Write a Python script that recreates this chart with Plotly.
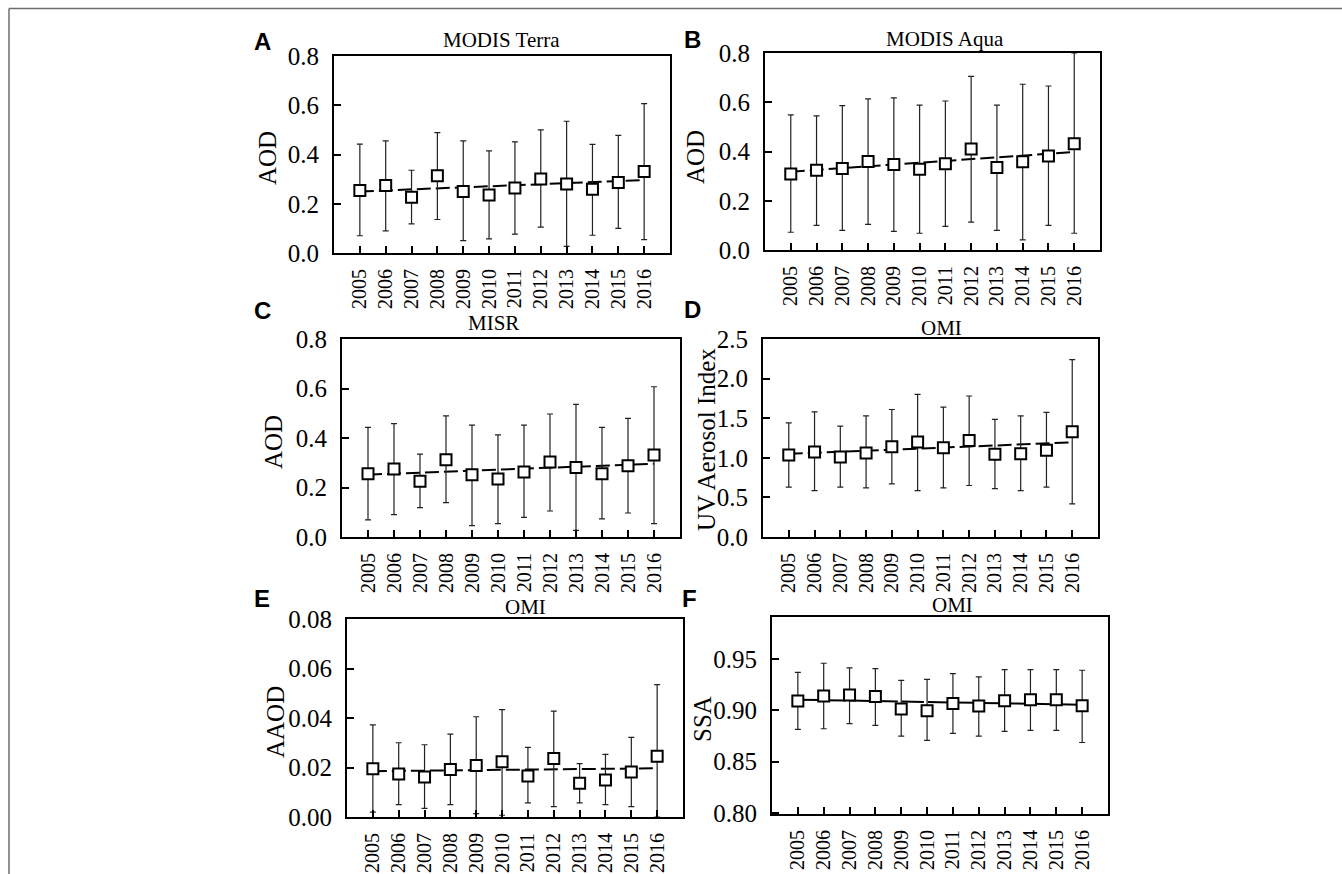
import plotly.graph_objects as go

W, H = 1342, 874

years = [2005, 2006, 2007, 2008, 2009, 2010, 2011, 2012, 2013, 2014, 2015, 2016]
year_labels = [str(y) for y in years]
trend_years = [2005, 2016]

A_mean = [0.254, 0.274, 0.226, 0.314, 0.250, 0.236, 0.264, 0.301, 0.280, 0.259, 0.286, 0.331]
A_upper = [0.442, 0.455, 0.336, 0.489, 0.455, 0.415, 0.451, 0.500, 0.535, 0.441, 0.478, 0.607]
A_lower = [0.070, 0.090, 0.118, 0.136, 0.050, 0.057, 0.077, 0.105, 0.027, 0.072, 0.100, 0.054]
A_trend = [0.250, 0.296]

B_mean = [0.309, 0.324, 0.331, 0.359, 0.347, 0.328, 0.350, 0.410, 0.335, 0.358, 0.382, 0.431]
B_upper = [0.549, 0.545, 0.586, 0.614, 0.618, 0.588, 0.605, 0.705, 0.588, 0.673, 0.666, 0.800]
B_lower = [0.072, 0.100, 0.080, 0.104, 0.076, 0.068, 0.096, 0.113, 0.080, 0.041, 0.100, 0.068]
B_trend = [0.318, 0.398]

C_mean = [0.256, 0.275, 0.225, 0.312, 0.252, 0.234, 0.263, 0.303, 0.281, 0.256, 0.288, 0.331]
C_upper = [0.443, 0.458, 0.335, 0.489, 0.452, 0.413, 0.452, 0.497, 0.536, 0.443, 0.479, 0.607]
C_lower = [0.069, 0.090, 0.119, 0.139, 0.046, 0.054, 0.079, 0.105, 0.027, 0.073, 0.097, 0.054]
C_trend = [0.252, 0.296]

D_mean = [1.035, 1.073, 1.010, 1.060, 1.140, 1.200, 1.128, 1.220, 1.044, 1.052, 1.094, 1.330]
D_upper = [1.44, 1.58, 1.40, 1.53, 1.61, 1.80, 1.64, 1.78, 1.486, 1.53, 1.574, 2.24]
D_lower = [0.63, 0.585, 0.63, 0.62, 0.67, 0.585, 0.62, 0.65, 0.61, 0.585, 0.63, 0.417]
D_trend = [1.05, 1.195]

E_mean = [0.0195, 0.0174, 0.0162, 0.0192, 0.0208, 0.0223, 0.0166, 0.0236, 0.0136, 0.0150, 0.0182, 0.0245]
E_upper = [0.0372, 0.0300, 0.0292, 0.0335, 0.0405, 0.0434, 0.0281, 0.0428, 0.0216, 0.0253, 0.0322, 0.0535]
E_lower = [0.0020, 0.0050, 0.0035, 0.0050, 0.0014, 0.0007, 0.0057, 0.0042, 0.0057, 0.0050, 0.0042, 0.0000]
E_trend = [0.0185, 0.0197]

F_mean = [0.9091, 0.9140, 0.9150, 0.9134, 0.9013, 0.8997, 0.9068, 0.9042, 0.9094, 0.9104, 0.9104, 0.9046]
F_upper = [0.9371, 0.9459, 0.9414, 0.9407, 0.9293, 0.9303, 0.9358, 0.9326, 0.9397, 0.9397, 0.9397, 0.9391]
F_lower = [0.8814, 0.8821, 0.8870, 0.8853, 0.8749, 0.8707, 0.8775, 0.8749, 0.8795, 0.8805, 0.8805, 0.8687]
F_trend = [0.9104, 0.9055]

panel_letters = ["A", "B", "C", "D", "E", "F"]
panel_titles = ["MODIS Terra", "MODIS Aqua", "MISR", "OMI", "OMI", "OMI"]
y_titles = ["AOD", "AOD", "AOD", "UV Aerosol Index", "AAOD", "SSA"]

SERIF = "Liberation Serif, Times New Roman, serif"
SANS = "Liberation Sans, Arial, sans-serif"

panels = [
    dict(mean=A_mean, up=A_upper, lo=A_lower, trend=A_trend, box=(334, 670, 56, 253),
         yr=[0, 0.8], yt=[0, 0.2, 0.4, 0.6, 0.8], fmt=".1f", dash="14px,5px",
         letter=(262, 41), title=(502, 40), ytitle=(268, 158)),
    dict(mean=B_mean, up=B_upper, lo=B_lower, trend=B_trend, box=(765, 1100, 53, 250),
         yr=[0, 0.8], yt=[0, 0.2, 0.4, 0.6, 0.8], fmt=".1f", dash="14px,5px",
         letter=(692, 40), title=(945, 39), ytitle=(695, 157)),
    dict(mean=C_mean, up=C_upper, lo=C_lower, trend=C_trend, box=(342, 680, 339, 537),
         yr=[0, 0.8], yt=[0, 0.2, 0.4, 0.6, 0.8], fmt=".1f", dash="14px,5px",
         letter=(262, 310), title=(493, 323), ytitle=(273, 442)),
    dict(mean=D_mean, up=D_upper, lo=D_lower, trend=D_trend, box=(763, 1098, 339, 537),
         yr=[0, 2.5], yt=[0, 0.5, 1.0, 1.5, 2.0, 2.5], fmt=".1f", dash="14px,5px",
         letter=(692, 309), title=(942, 328), ytitle=(706, 440)),
    dict(mean=E_mean, up=E_upper, lo=E_lower, trend=E_trend, box=(347, 683, 619, 817),
         yr=[0, 0.08], yt=[0, 0.02, 0.04, 0.06, 0.08], fmt=".2f", dash="14px,5px",
         letter=(262, 598), title=(525, 607), ytitle=(275, 722)),
    dict(mean=F_mean, up=F_upper, lo=F_lower, trend=F_trend, box=(772, 1108, 617, 814),
         yr=[0.799, 0.991], yt=[0.80, 0.85, 0.90, 0.95], fmt=".2f", dash="22px,4px",
         letter=(689, 598), title=(952, 605), ytitle=(702, 719)),
]

fig = go.Figure()
annotations = []
layout = {}

for i, p in enumerate(panels):
    k = "" if i == 0 else str(i + 1)
    xref, yref = "x" + k, "y" + k
    l, r, t, b = p["box"]
    err_plus = [u - m for u, m in zip(p["up"], p["mean"])]
    err_minus = [m - lo for m, lo in zip(p["mean"], p["lo"])]

    fig.add_trace(go.Scatter(
        x=trend_years, y=p["trend"], mode="lines",
        line=dict(color="black", width=2, dash=p["dash"]),
        xaxis=xref, yaxis=yref, showlegend=False, hoverinfo="skip"))
    fig.add_trace(go.Scatter(
        x=years, y=p["mean"], mode="markers",
        marker=dict(symbol="square", size=11, color="white",
                    line=dict(color="black", width=2)),
        error_y=dict(type="data", symmetric=False, array=err_plus,
                     arrayminus=err_minus, color="#222222", thickness=1.2, width=3),
        xaxis=xref, yaxis=yref, showlegend=False))

    common = dict(showline=True, mirror=True, linecolor="black", linewidth=2,
                  ticks="inside", ticklen=7, tickwidth=1.5, tickcolor="black",
                  showgrid=False, zeroline=False, automargin=False)
    layout["xaxis" + k] = dict(
        domain=[l / W, r / W], anchor=yref, range=[2004, 2017],
        tickmode="array", tickvals=years, ticktext=year_labels, tickangle=-90,
        tickfont=dict(family=SERIF, size=20, color="black"),
        ticklabelstandoff=6, **common)
    layout["yaxis" + k] = dict(
        domain=[1 - b / H, 1 - t / H], anchor=xref, range=p["yr"],
        tickmode="array", tickvals=p["yt"], tickformat=p["fmt"],
        tickfont=dict(family=SERIF, size=25, color="black"),
        ticklabelstandoff=8, **common)

    lx, ly = p["letter"]
    annotations.append(dict(text="<b>" + panel_letters[i] + "</b>", x=lx / W, y=1 - ly / H,
                            xref="paper", yref="paper",
                            showarrow=False, xanchor="center", yanchor="middle",
                            font=dict(family=SANS, size=24, color="black")))
    tx, ty = p["title"]
    annotations.append(dict(text=panel_titles[i], x=tx / W, y=1 - ty / H, xref="paper", yref="paper",
                            showarrow=False, xanchor="center", yanchor="middle",
                            font=dict(family=SERIF, size=21, color="black")))
    ax_, ay_ = p["ytitle"]
    annotations.append(dict(text=y_titles[i], x=ax_ / W, y=1 - ay_ / H, xref="paper", yref="paper",
                            showarrow=False, xanchor="center", yanchor="middle", textangle=-90,
                            font=dict(family=SERIF, size=25, color="black")))

shapes = [
    dict(type="line", xref="paper", yref="paper", x0=9 / W, x1=1, y0=1 - 8.5 / H, y1=1 - 8.5 / H,
         line=dict(color="#6e6e6e", width=1.5)),
    dict(type="line", xref="paper", yref="paper", x0=9 / W, x1=9 / W, y0=0, y1=1 - 8.5 / H,
         line=dict(color="#6e6e6e", width=1.5)),
]

fig.update_layout(
    width=W, height=H, margin=dict(l=0, r=0, t=0, b=0, pad=0, autoexpand=False),
    paper_bgcolor="white", plot_bgcolor="white",
    annotations=annotations, shapes=shapes, showlegend=False,
    **layout)

fig.write_html("out.html",
               config={"displayModeBar": False},
               post_script="document.body.style.margin='0';document.body.style.overflow='hidden';")
